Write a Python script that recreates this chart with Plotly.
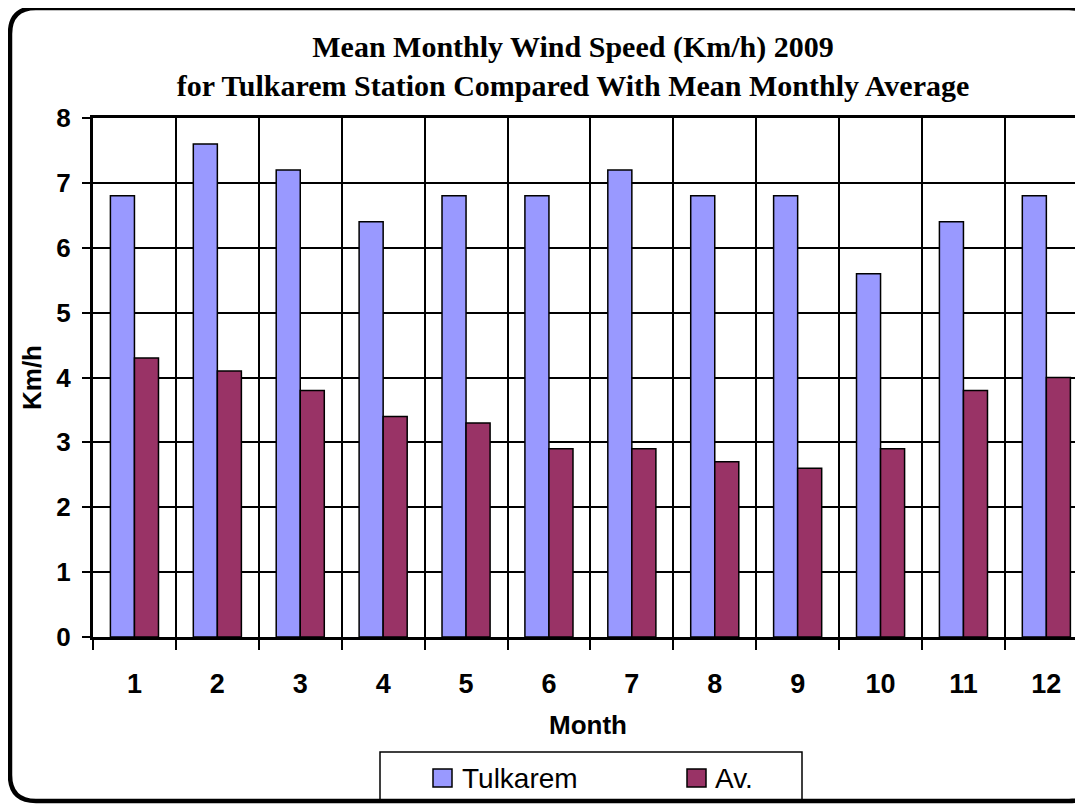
import plotly.graph_objects as go

months = list(range(1, 13))
month_labels = [str(m) for m in months]
tulkarem = [6.8, 7.6, 7.2, 6.4, 6.8, 6.8, 7.2, 6.8, 6.8, 5.6, 6.4, 6.8]
average = [4.3, 4.1, 3.8, 3.4, 3.3, 2.9, 2.9, 2.7, 2.6, 2.9, 3.8, 4.0]
series_names = ["Tulkarem", "Av."]
colors = ["#9999FF", "#993366"]

# page body has an 8px margin, so work in screenshot pixels and shift
OFF = 8
SW, SH = 1083, 804
W, H = SW - OFF, SH - OFF
PL, PT, PB = 93, 118, 637       # plot area in screenshot px
PR = SW                          # plot area runs to right edge of view
ML, MT = PL - OFF, PT - OFF
MR = W - (PR - OFF)
MB = H - (PB - OFF)
PW = PR - PL
PH = PB - PT
CAT_PX = 82.9

def px(x):
    return (x - PL) / PW

def py(y):
    return (PB - y) / PH

fig = go.Figure()
for name, vals, col in zip(series_names, [tulkarem, average], colors):
    fig.add_trace(go.Bar(
        x=months, y=vals, name=name,
        marker=dict(color=col, line=dict(color="black", width=1.5)),
        showlegend=False,
    ))

x_max = 0.5 + PW / CAT_PX
fig.update_layout(
    width=W, height=H,
    margin=dict(l=ML, r=MR, t=MT, b=MB, autoexpand=False),
    paper_bgcolor="white", plot_bgcolor="white",
    barmode="group", bargap=0.42, bargroupgap=0,
    title=dict(
        text="Mean Monthly Wind Speed (Km/h) 2009<br>for Tulkarem Station Compared With Mean Monthly Average",
        font=dict(family="Liberation Serif", size=30, color="black", weight="bold"),
        x=(573 - OFF) / W, xanchor="center", y=1 - (57 - OFF) / H, yanchor="middle",
    ),
    font=dict(family="Liberation Sans", color="black"),
)

fig.update_xaxes(
    range=[0.5, x_max], tickmode="array", tickvals=months, ticktext=month_labels,
    ticks="", showgrid=False, zeroline=False,
    tickfont=dict(size=27, weight="bold", family="Liberation Sans"),
    ticklabelstandoff=21,
    showline=True, linecolor="black", linewidth=3, mirror=True,
    minor=dict(tickvals=[m + 0.5 for m in range(0, 12)], ticks="outside", ticklen=10,
               tickwidth=1.5, tickcolor="black", showgrid=True, gridcolor="black", gridwidth=1.5),
    title=dict(text="Month", font=dict(size=26, weight="bold"), standoff=18),
)
fig.update_yaxes(
    range=[0, 8], dtick=1, ticks="outside", ticklen=8, tickwidth=1.5, tickcolor="black",
    showgrid=True, gridcolor="black", gridwidth=1.5, zeroline=False,
    showline=True, linecolor="black", linewidth=3,
    tickfont=dict(size=26, weight="bold", family="Liberation Sans"),
    ticklabelstandoff=6,
    title=dict(text="Km/h", font=dict(size=26, weight="bold"), standoff=8),
)

# legend box (drawn manually)
LX0, LX1, LY0, LY1 = 380, 802, 752, 800
fig.add_shape(type="rect", xref="paper", yref="paper",
              x0=px(LX0), x1=px(LX1), y0=py(LY0), y1=py(LY1),
              line=dict(color="black", width=1.5), fillcolor="white", layer="above")
for sx, col, name, tx in [(433, colors[0], series_names[0], 462), (687, colors[1], series_names[1], 715)]:
    fig.add_shape(type="rect", xref="paper", yref="paper",
                  x0=px(sx), x1=px(sx + 19), y0=py(769), y1=py(787),
                  line=dict(color="black", width=1.5), fillcolor=col, layer="above")
    fig.add_annotation(text=name, xref="paper", yref="paper", x=px(tx - 2), y=py(778),
                       xanchor="left", yanchor="middle", showarrow=False,
                       font=dict(size=28, family="Liberation Sans", color="black"))

# rounded frame
L, T, R, B, r = 10, 8, 1095, 801, 26
def P(x, y):
    return f"{px(x):.5f},{py(y):.5f}"
path = (f"M {P(L + r, T)} L {P(R - r, T)} Q {P(R, T)} {P(R, T + r)} "
        f"L {P(R, B - r)} Q {P(R, B)} {P(R - r, B)} L {P(L + r, B)} "
        f"Q {P(L, B)} {P(L, B - r)} L {P(L, T + r)} Q {P(L, T)} {P(L + r, T)} Z")
fig.add_shape(type="path", xref="paper", yref="paper", path=path,
              line=dict(color="black", width=4.5), layer="above")

fig.write_html("out.html")
